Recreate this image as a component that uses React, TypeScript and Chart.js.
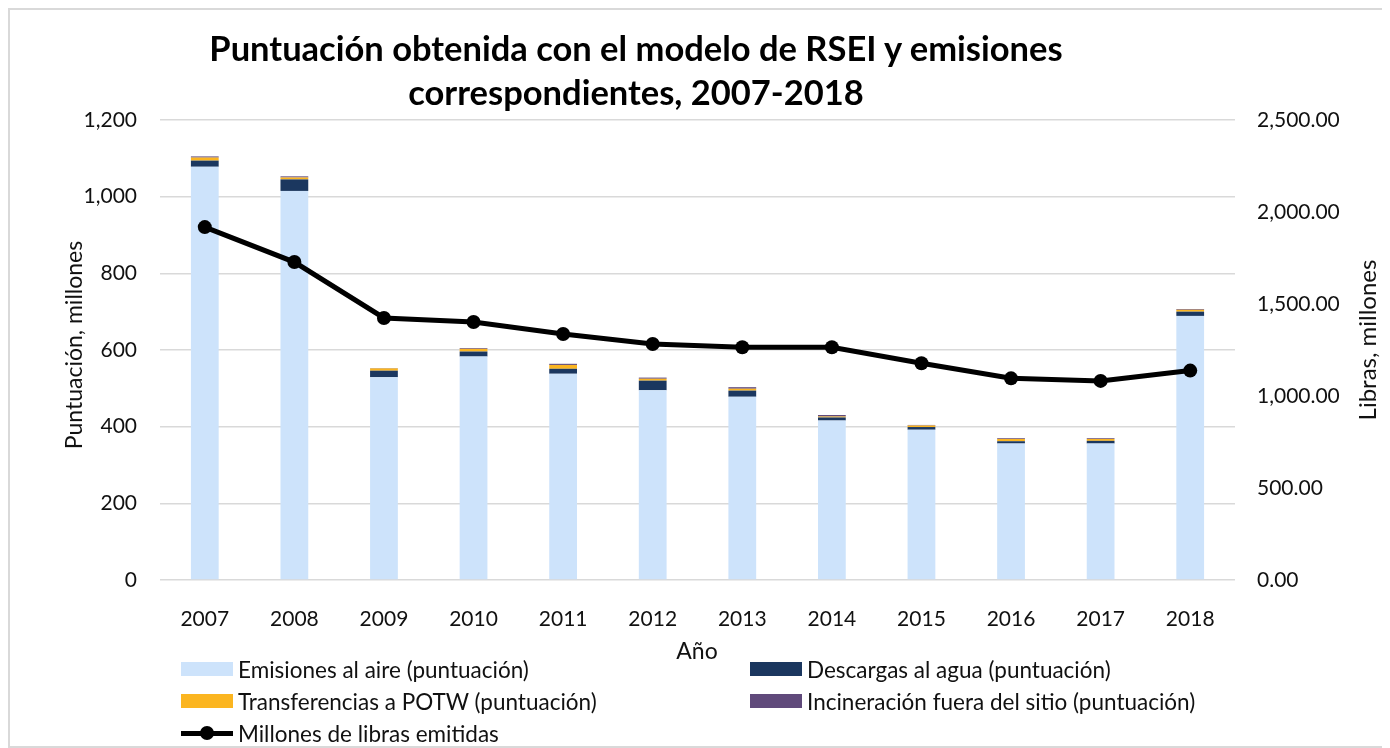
import React, { useEffect, useRef } from "react";
import { Chart, registerables } from "chart.js";

Chart.register(...registerables);

const years = ["2007", "2008", "2009", "2010", "2011", "2012", "2013", "2014", "2015", "2016", "2017", "2018"];
const airScores = [1078, 1015, 529, 583, 538, 495, 478, 416, 392, 356, 356, 689];
const waterScores = [16, 30, 17, 13, 13, 25, 16, 8, 7, 6, 7, 11];
const potwScores = [8, 5, 6, 7, 10, 5, 5, 2.5, 4, 6, 5, 5];
const incinerationScores = [3, 3, 1, 2, 3, 3, 4, 4, 1.5, 2, 2, 2];
const poundsEmitted = [1918, 1728, 1424, 1402, 1337, 1283, 1265, 1265, 1178, 1096, 1082, 1138];

const leftTicks = [0, 200, 400, 600, 800, 1000, 1200];
const rightTicks = [0, 500, 1000, 1500, 2000, 2500];

const titleLines = ["Puntuación obtenida con el modelo de RSEI y emisiones", "correspondientes, 2007-2018"];
const xTitle = "Año";
const yTitle = "Puntuación, millones";
const y1Title = "Libras, millones";
const seriesNames = [
  "Emisiones al aire (puntuación)",
  "Descargas al agua (puntuación)",
  "Transferencias a POTW (puntuación)",
  "Incineración fuera del sitio (puntuación)",
  "Millones de libras emitidas",
];

const COLORS = {
  air: "#cde3fb",
  water: "#1b375f",
  potw: "#fbb520",
  incin: "#604a7b",
  line: "#000000",
  grid: "#d9d9d9",
  text: "#111111",
};

const FONT = "Lato, 'Open Sans', sans-serif";

export default function App() {
  const canvasRef = useRef<HTMLCanvasElement | null>(null);

  useEffect(() => {
    if (!canvasRef.current) return;
    const barCommon = { stack: "s", order: 1, barPercentage: 0.31, categoryPercentage: 1, yAxisID: "y", borderWidth: 0 };
    const chart = new Chart(canvasRef.current, {
      type: "bar",
      data: {
        labels: years,
        datasets: [
          { type: "line", label: seriesNames[4], data: poundsEmitted, yAxisID: "y1", order: 0, borderColor: COLORS.line, backgroundColor: COLORS.line, borderWidth: 5, pointRadius: 7, pointBackgroundColor: COLORS.line, pointBorderWidth: 0, tension: 0 } as any,
          { ...barCommon, label: seriesNames[0], data: airScores, backgroundColor: COLORS.air },
          { ...barCommon, label: seriesNames[1], data: waterScores, backgroundColor: COLORS.water },
          { ...barCommon, label: seriesNames[2], data: potwScores, backgroundColor: COLORS.potw },
          { ...barCommon, label: seriesNames[3], data: incinerationScores, backgroundColor: COLORS.incin },
        ],
      },
      options: {
        responsive: false,
        animation: false,
        devicePixelRatio: 1,
        layout: { padding: { top: 110, bottom: 106, left: 0, right: 0 } },
        plugins: { legend: { display: false }, title: { display: false }, tooltip: { enabled: false } },
        scales: {
          x: {
            stacked: true,
            grid: { display: false },
            border: { display: false },
            ticks: { font: { family: FONT, size: 21 }, color: COLORS.text, padding: 19 },
            afterFit: (s: any) => { s.height = 60; },
          },
          y: {
            position: "left",
            stacked: true,
            min: 0,
            max: 1200,
            afterBuildTicks: (s: any) => { s.ticks = leftTicks.map((v) => ({ value: v })); },
            ticks: {
              font: { family: FONT, size: 21 },
              color: COLORS.text,
              padding: 23,
              callback: (v: any) => Number(v).toLocaleString("en-US"),
            },
            grid: { color: COLORS.grid, lineWidth: 1.5, drawTicks: false },
            border: { display: false },
            afterFit: (s: any) => { s.width = 150; },
          },
          y1: {
            position: "right",
            min: 0,
            max: 2500,
            afterBuildTicks: (s: any) => { s.ticks = rightTicks.map((v) => ({ value: v })); },
            ticks: {
              font: { family: FONT, size: 21 },
              color: COLORS.text,
              padding: 22,
              callback: (v: any) => Number(v).toLocaleString("en-US", { minimumFractionDigits: 2, maximumFractionDigits: 2 }),
            },
            grid: { display: false, drawTicks: false },
            border: { display: false },
            afterFit: (s: any) => { s.width = 147; },
          },
        },
      } as any,
    });
    return () => chart.destroy();
  }, []);

  const textStyle: React.CSSProperties = { fontFamily: FONT, fontSize: 22.5, color: COLORS.text, whiteSpace: "nowrap" };
  const axisTitleStyle: React.CSSProperties = { ...textStyle, fontSize: 23 };
  // page coords minus 10 (container border + body margin)
  const legendItem = (left: number, top: number, name: string, kind: "box" | "line", color: string) => (
    <div style={{ position: "absolute", left, top: top - 14, height: 28, display: "flex", alignItems: "center", ...textStyle }}>
      {kind === "box" ? (
        <div style={{ width: 52, height: 14, background: color, marginRight: 5 }} />
      ) : (
        <div style={{ width: 52, height: 14, position: "relative", marginRight: 5 }}>
          <div style={{ position: "absolute", left: 0, top: 5, width: 52, height: 5, background: color }} />
          <div style={{ position: "absolute", left: 19, top: 0, width: 14, height: 14, borderRadius: 7, background: color }} />
        </div>
      )}
      <span>{name}</span>
    </div>
  );

  return (
    <div style={{ position: "relative", width: 1376, height: 740, border: "2px solid #d9d9d9", boxSizing: "border-box", background: "#fff", overflow: "hidden" }}>
      <canvas ref={canvasRef} width={1372} height={736} style={{ display: "block", width: 1372, height: 736 }} />
      <div style={{ position: "absolute", left: 126, top: 16, width: 1000, textAlign: "center", fontFamily: FONT, fontWeight: 700, fontSize: 34.5, lineHeight: "44px", color: "#000", whiteSpace: "nowrap" }}>
        <div>{titleLines[0]}</div>
        <div>{titleLines[1]}</div>
      </div>
      <div style={{ position: "absolute", left: 687 - 100, top: 640 - 14, width: 200, height: 28, lineHeight: "28px", textAlign: "center", ...axisTitleStyle }}>{xTitle}</div>
      <div style={{ position: "absolute", left: 63 - 150, top: 335 - 14, width: 300, height: 28, lineHeight: "28px", textAlign: "center", transform: "rotate(-90deg)", ...axisTitleStyle }}>{yTitle}</div>
      <div style={{ position: "absolute", left: 1357 - 150, top: 330 - 14, width: 300, height: 28, lineHeight: "28px", textAlign: "center", transform: "rotate(-90deg)", ...axisTitleStyle, fontSize: 24 }}>{y1Title}</div>
      {legendItem(171, 659, seriesNames[0], "box", COLORS.air)}
      {legendItem(740, 659, seriesNames[1], "box", COLORS.water)}
      {legendItem(171, 691, seriesNames[2], "box", COLORS.potw)}
      {legendItem(740, 691, seriesNames[3], "box", COLORS.incin)}
      {legendItem(171, 723, seriesNames[4], "line", COLORS.line)}
    </div>
  );
}
